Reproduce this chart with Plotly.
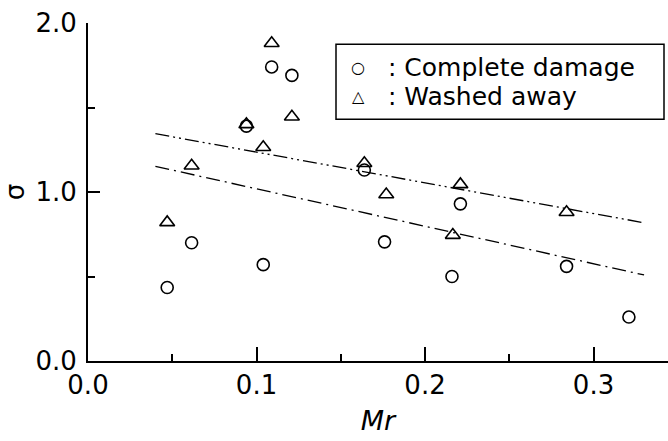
import plotly.graph_objects as go

# Complete damage (circles)
cd_x = [0.109, 0.121, 0.094, 0.164, 0.221, 0.047, 0.0615, 0.104, 0.176, 0.216, 0.284, 0.321]
cd_y = [1.74, 1.69, 1.39, 1.13, 0.93, 0.435, 0.70, 0.57, 0.705, 0.50, 0.56, 0.26]

# Washed away (triangles)
wa_x = [0.109, 0.121, 0.094, 0.104, 0.0615, 0.164, 0.177, 0.221, 0.284, 0.047, 0.2165]
wa_y = [1.88, 1.445, 1.40, 1.265, 1.155, 1.17, 0.985, 1.045, 0.88, 0.82, 0.745]

# Fitted lines
fit_x = [0.04, 0.33]
fit_wa_y = [1.345, 0.818]
fit_cd_y = [1.152, 0.509]

x_ticks = [0.0, 0.1, 0.2, 0.3]
y_ticks = [0.0, 1.0, 2.0]

FONT = "DejaVu Sans"

fig = go.Figure()
fig.add_trace(go.Scatter(x=fit_x, y=fit_wa_y, mode="lines",
                         line=dict(color="black", width=1.3, dash="14px,4px,2px,4px,2px,4px"),
                         showlegend=False))
fig.add_trace(go.Scatter(x=fit_x, y=fit_cd_y, mode="lines",
                         line=dict(color="black", width=1.3, dash="14px,5px,2px,5px"),
                         showlegend=False))
fig.add_trace(go.Scatter(x=cd_x, y=cd_y, mode="markers",
                         marker=dict(symbol="circle-open", size=12, color="black", line=dict(width=1.6)),
                         showlegend=False))
fig.add_trace(go.Scatter(x=wa_x, y=wa_y, mode="markers",
                         marker=dict(symbol="triangle-up-open", size=13, color="black", line=dict(width=1.6)),
                         showlegend=False))

# legend box
def px_x(p):
    return (p - 88) / 580.0

def px_y(p):
    return (360.7 - p) / 338.0

fig.add_shape(type="rect", xref="paper", yref="paper",
              x0=px_x(336), x1=px_x(664), y0=px_y(119), y1=px_y(44),
              line=dict(color="black", width=1.5), fillcolor="white", layer="below")

legend_rows = [("○", ": Complete damage", 67), ("△", ": Washed away", 96)]
for sym, txt, py in legend_rows:
    fig.add_annotation(xref="paper", yref="paper", x=px_x(358), y=px_y(py),
                       text=sym, showarrow=False, xanchor="center", yanchor="middle",
                       font=dict(family=FONT, size=16, color="black"))
    fig.add_annotation(xref="paper", yref="paper", x=px_x(386), y=px_y(py),
                       text=txt, showarrow=False, xanchor="left", yanchor="middle",
                       font=dict(family=FONT, size=25, color="black"))

fig.update_layout(
    width=668, height=441,
    margin=dict(l=88, r=0, t=23, b=80),
    paper_bgcolor="white", plot_bgcolor="white",
    font=dict(family=FONT, size=26, color="black"),
    showlegend=False,
)
fig.update_xaxes(
    range=[0, 0.3442], tickvals=x_ticks, tickformat=".1f",
    showline=True, linecolor="black", linewidth=2, mirror=False,
    showgrid=False, zeroline=False,
    ticks="inside", ticklen=14, tickwidth=1.5, tickcolor="black",
    minor=dict(dtick=0.05, tick0=0, ticks="inside", ticklen=7, tickwidth=1.5, tickcolor="black", showgrid=False),
    tickfont=dict(family=FONT, size=26),
    title=dict(text="<i>Mr</i>", font=dict(family=FONT, size=27), standoff=12),
)
fig.update_yaxes(
    range=[0, 2.0], tickvals=y_ticks, tickformat=".1f",
    showline=True, linecolor="black", linewidth=2, mirror=False,
    showgrid=False, zeroline=False,
    ticks="inside", ticklen=12, tickwidth=1.5, tickcolor="black",
    minor=dict(dtick=0.5, tick0=0, ticks="inside", ticklen=7, tickwidth=1.5, tickcolor="black", showgrid=False),
    tickfont=dict(family=FONT, size=26), ticklabelstandoff=4,
    title=dict(text="σ", font=dict(family=FONT, size=26), standoff=16),
)

fig.write_html("out.html")
